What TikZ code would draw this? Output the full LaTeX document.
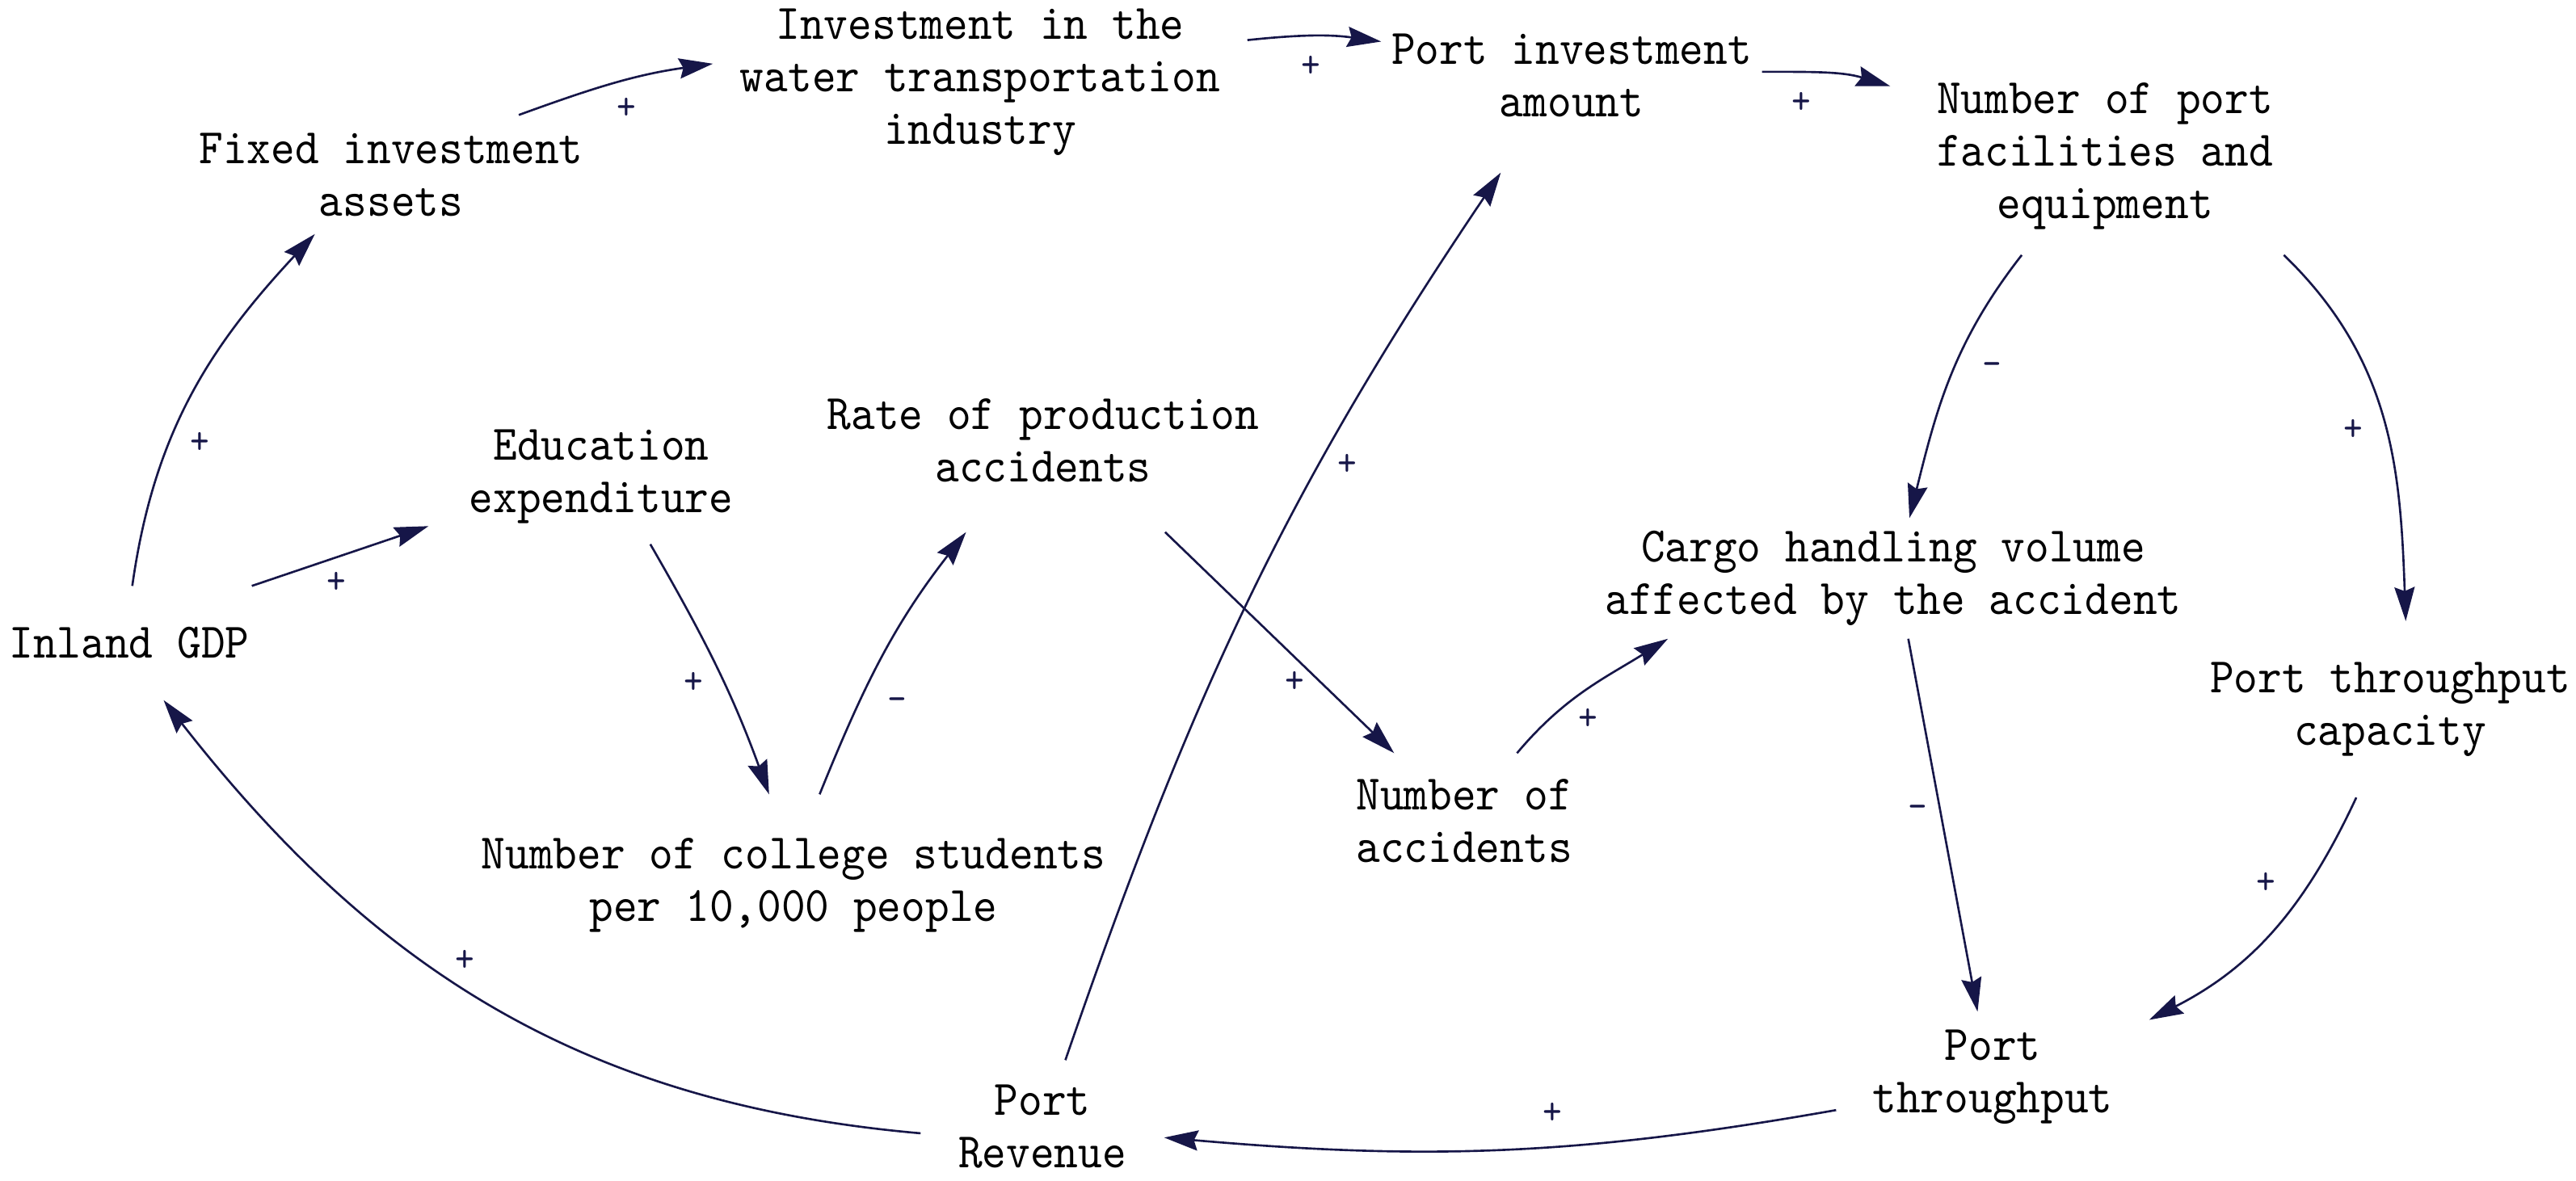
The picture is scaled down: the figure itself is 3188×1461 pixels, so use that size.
\documentclass[tikz,border=0pt]{standalone}
\usepackage{fontspec}
\setmainfont[FakeStretch=0.92]{lmmono10-regular.otf}
\usetikzlibrary{arrows.meta}
\definecolor{arr}{RGB}{22,22,72}
\begin{document}
\begin{tikzpicture}[x=0.1mm,y=0.1mm,
  var/.style={align=center, inner sep=0pt, font=\fontsize{17.5}{18.5}\selectfont},
  sgn/.style={inner sep=0pt, text=arr, font=\fontsize{14}{14}\selectfont},
  link/.style={draw=arr, line width=0.75pt, -{Stealth[length=4.2mm,width=2.5mm,inset=0.5mm]}}]
\useasboundingbox (0,0) rectangle (3188,-1461);
% variables
\node[var, minimum width=33mm, minimum height=14mm] (gdp) at (160,-796) {Inland GDP};
\node[var, minimum width=50mm, minimum height=14.6mm] (fixed) at (484,-216) {Fixed investment\\assets};
\node[var, minimum width=66mm, minimum height=21mm] (inv) at (1213,-102) {Investment in the\\water transportation\\industry};
\node[var, minimum width=47mm, minimum height=24mm] (portinv) at (1945,-93) {Port investment\\amount};
\node[var, minimum width=53mm, minimum height=24.4mm] (facil) at (2605,-193) {Number of port\\facilities and\\equipment};
\node[var, minimum width=42.6mm, minimum height=16.6mm] (edu) at (744,-590) {Education\\expenditure};
\node[var, minimum width=53.6mm, minimum height=22.6mm] (rate) at (1291,-545) {Rate of production\\accidents};
\node[var, minimum width=77.2mm, minimum height=22.4mm] (college) at (982,-1096) {Number of college students\\per 10,000 people};
\node[var, minimum width=26.8mm, minimum height=16.6mm] (acc) at (1812,-1016) {Number of\\accidents};
\node[var, minimum width=71.3mm, minimum height=14.8mm] (cargo) at (2343,-716) {Cargo handling volume\\affected by the accident};
\node[var, minimum width=44.6mm, minimum height=21.7mm] (cap) at (2958,-878) {Port throughput\\capacity};
\node[var, minimum width=38.6mm, minimum height=16mm] (thr) at (2466,-1333) {Port\\throughput};
\node[var, minimum width=30mm, minimum height=16.4mm] (rev) at (1290,-1395) {Port\\Revenue};
% links
\draw[link] (fixed.25) to[out=20,in=188] (inv.176.5);
\draw[link] (inv.9.8) to[out=6,in=172] (portinv.170.2);
\draw[link] (portinv.1.4) to[out=0,in=163] (facil.162.6);
\draw[link] (gdp.87.5) to[out=82,in=-133] (fixed.-142);
\draw[link] (gdp.25) -- (edu.-164.8);
\draw[link] (edu.-54.1) to[out=-60,in=110] (college.105.8);
\draw[link] (college.74.9) to[out=68,in=-128] (rate.-130);
\draw[link] (rate.-37.2) -- (acc.136.3);
\draw[link] (acc.52) to[out=50,in=-148] (cargo.-165.6);
\draw[link] (facil.-130.2) to[out=-128,in=76] (cargo.75.4);
\draw[link] (facil.-29.6) to[out=-44,in=92] (cap.80);
\draw[link] (cargo.-76.3) -- (thr.103.4);
\draw[link] (cap.-111.5) to[out=-115,in=27] (thr.20.1);
\draw[link] (thr.-168.6) to[out=190,in=-5] (rev.-5.6);
\draw[link] (rev.-177.3) to[out=175,in=-52] (gdp.-59.7);
\draw[link] (rev.71.8) to[out=71,in=-124] (portinv.-126.2);
% polarities
\node[sgn] (s1) at (775,-134) {+};
\node[sgn] (s2) at (1622,-82) {+};
\node[sgn] (s3) at (2229,-127) {+};
\node[sgn] (s4) at (247,-548) {+};
\node[sgn] (s5) at (416,-721) {+};
\node[sgn] (s6) at (858,-845) {+};
\node[sgn] (s7) at (1110,-872) {-};
\node[sgn] (s8) at (1602,-844) {+};
\node[sgn] (s9) at (1965,-890) {+};
\node[sgn] (s10) at (2465,-457) {-};
\node[sgn] (s11) at (2912,-532) {+};
\node[sgn] (s12) at (2373,-1005) {-};
\node[sgn] (s13) at (2804,-1093) {+};
\node[sgn] (s14) at (1921,-1378) {+};
\node[sgn] (s15) at (575,-1189) {+};
\node[sgn] (s16) at (1667,-575) {+};
\end{tikzpicture}
\end{document}
